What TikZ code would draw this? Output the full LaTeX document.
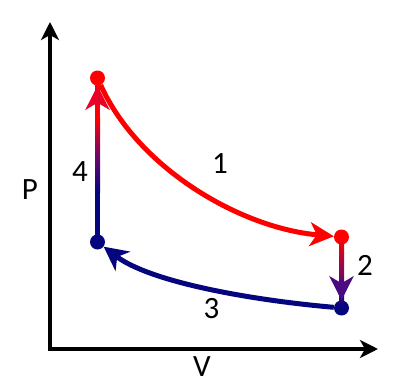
\documentclass[tikz,border=0pt]{standalone}
\usepackage{fontspec}
\setmainfont{Carlito}
\usetikzlibrary{arrows.meta,calc}
\definecolor{pvred}{RGB}{255,0,0}
\definecolor{pvnavy}{RGB}{5,5,125}
\definecolor{pvpurple}{RGB}{75,10,130}
\definecolor{pvcrimson}{RGB}{235,0,40}
\tikzset{
  pvdot/.style={circle,inner sep=0pt,minimum size=15pt},
  axis/.style={line width=3.8pt,line join=miter,{Stealth[length=18pt,width=18pt,inset=5pt]}-{Stealth[length=18pt,width=18pt,inset=5pt]}},
  proc/.style={line width=5pt},
  bigtip/.style={-{Stealth[length=24pt,width=24pt,inset=7pt]}},
  lbl/.style={font=\fontsize{31}{36}\selectfont,inner sep=0pt}
}
\begin{document}
\begin{tikzpicture}[x=1pt,y=-1pt]
\useasboundingbox (0,0) rectangle (400,391);
% axes
\coordinate (O) at (50,349);
\coordinate (Ytip) at (50,22);
\coordinate (Xtip) at (378,349);
\draw[axis] (Ytip) -- (O) -- (Xtip);
% state points
\node[pvdot,fill=pvred] (A) at (97.5,78) {};
\node[pvdot,fill=pvred] (B) at (341.5,237) {};
\node[pvdot,fill=pvnavy] (C) at (341.5,308) {};
\node[pvdot,fill=pvnavy] (D) at (97.5,242) {};
% process 4 (gradient vertical, up)
\fill[pvnavy] ($(D)+(-2.5,0)$) rectangle ($(D)+(2.5,-50)$);
\shade[top color=pvred,bottom color=pvnavy,middle color=pvpurple!80!pvred] ($(D)+(-2.5,-50)$) rectangle ($(A)+(2.5,40)$);
\fill[pvred] ($(A)+(-2.5,40)$) rectangle ($(A)+(2.5,0)$);
\draw[proc,pvcrimson,bigtip] ($(A)+(0,30)$) -- (A);
% process 2 (gradient vertical, down)
\shade[top color=pvred,bottom color=pvnavy,middle color=pvpurple!70!pvred] ($(B)+(-2.5,0)$) rectangle ($(C)+(2.5,0)$);
\draw[proc,pvpurple,bigtip] ($(C)+(0,-28)$) -- (C);
% process 1
\draw[proc,pvred,bigtip] (A) .. controls (138,168) and (240,228) .. (B);
% process 3
\draw[proc,pvnavy,bigtip] (C) .. controls (250,300) and (150,282) .. (D);
% labels
\node[lbl] (lP) at (30,190) {P};
\node[lbl] (lV) at (202,367) {V};
\node[lbl] (l1) at (220,164) {1};
\node[lbl] (l2) at (365,265) {2};
\node[lbl] (l3) at (211.5,309) {3};
\node[lbl] (l4) at (80,172) {4};
\end{tikzpicture}
\end{document}
